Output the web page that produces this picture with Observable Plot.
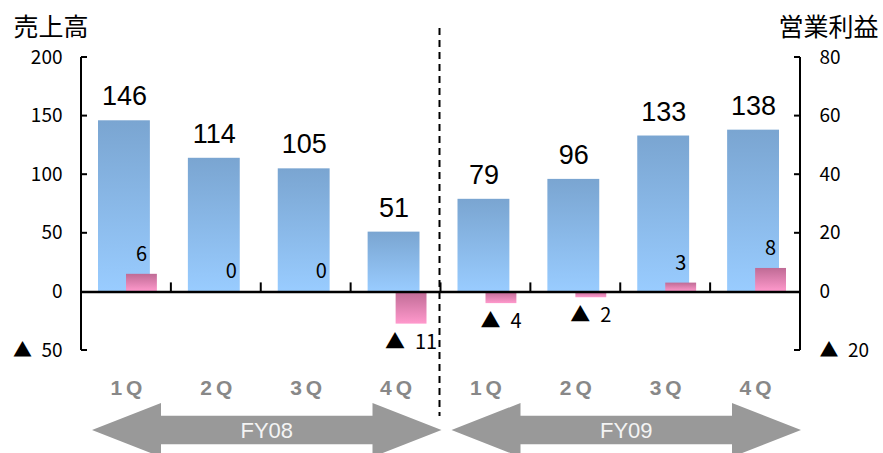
<!DOCTYPE html>
<html><head><meta charset="utf-8">
<script src="https://cdn.jsdelivr.net/npm/d3@7"></script>
<script src="https://cdn.jsdelivr.net/npm/@observablehq/plot@0.6"></script>
<style>body{margin:0;background:#fff} svg{display:block}</style>
</head><body><div id="chart"></div>
<script>
// ---- data ----
const years = ["FY08","FY08","FY08","FY08","FY09","FY09","FY09","FY09"];
const quarters = ["1Q","2Q","3Q","4Q","1Q","2Q","3Q","4Q"];
const sales = [146,114,105,51,79,96,133,138];
const profit = [6,0,0,-11,-4,-2,3,8];
const salesTicks = [-50,0,50,100,150,200];
const profitTicks = [-20,0,20,40,60,80];
const fiscalYears = ["FY08","FY09"];
const leftTitle = "売上高";
const rightTitle = "営業利益";

const k = salesTicks[salesTicks.length-1] / profitTicks[profitTicks.length-1]; // secondary axis ratio
const data = quarters.map((q,i)=>({key: years[i]+" "+q, year: years[i], q, sales: sales[i], profit: profit[i]}));
const keys = data.map(d=>d.key);
const fmt = v => v < 0 ? "▲\u2002" + (-v) : String(v);
const numFont = "'Liberation Sans', Arial, sans-serif";
const jpFont = "'Noto Sans CJK JP', sans-serif";

const decor = (index, scales, values, dim) => {
  const x = scales.x, y = scales.y, bw = x.bandwidth();
  const L = dim.marginLeft, R = dim.width - dim.marginRight;
  const yTop = y(salesTicks[salesTicks.length-1]), yBot = y(salesTicks[0]), y0 = y(0);
  const g = d3.create("svg:g");
  const defs = g.append("defs");
  const gb = defs.append("linearGradient").attr("id","gBlue").attr("x1",0).attr("y1",0).attr("x2",0).attr("y2",1);
  gb.append("stop").attr("offset","0").attr("stop-color","#7aa5d1");
  gb.append("stop").attr("offset","1").attr("stop-color","#99ccff");
  const gp = defs.append("linearGradient").attr("id","gPink").attr("x1",0).attr("y1",0).attr("x2",0).attr("y2",1);
  gp.append("stop").attr("offset","0").attr("stop-color","#bf6b95");
  gp.append("stop").attr("offset","1").attr("stop-color","#ff99cc");
  // axis lines
  const ax = g.append("g").attr("stroke","#000").attr("stroke-width",2).attr("fill","none");
  ax.append("line").attr("x1",L).attr("x2",L).attr("y1",yTop).attr("y2",yBot);
  ax.append("line").attr("x1",R).attr("x2",R).attr("y1",yTop).attr("y2",yBot);
  for (const t of salesTicks) {
    if (t === 0) continue;
    ax.append("line").attr("x1",L).attr("x2",L+6).attr("y1",y(t)).attr("y2",y(t));
    ax.append("line").attr("x1",R-6).attr("x2",R).attr("y1",y(t)).attr("y2",y(t));
  }
  keys.slice(1).forEach(kk => {
    ax.append("line").attr("x1",x(kk)).attr("x2",x(kk)).attr("y1",y0).attr("y2",y0-9);
  });
  // divider
  const xd = x(keys[4]) - 1;
  g.append("line").attr("x1",xd).attr("x2",xd).attr("y1",28).attr("y2",yBot+66)
    .attr("stroke","#000").attr("stroke-width",2).attr("stroke-dasharray","7,5");
  // arrows
  const cy = yBot + 80;
  fiscalYears.forEach(fy => {
    const ks = keys.filter((kk,i)=>years[i]===fy);
    const a = x(ks[0]) + 11, b = x(ks[ks.length-1]) + bw + 1;
    const hl = 69, hh = 27, sh = 14.3;
    const pts = [[a,cy],[a+hl,cy-hh],[a+hl,cy-sh],[b-hl,cy-sh],[b-hl,cy-hh],[b,cy],[b-hl,cy+hh],[b-hl,cy+sh],[a+hl,cy+sh],[a+hl,cy+hh]];
    g.append("polygon").attr("points",pts.map(p=>p.join(",")).join(" ")).attr("fill","#999999");
    g.append("text").attr("x",(a+b)/2).attr("y",cy).attr("dy","0.36em").attr("text-anchor","middle")
      .attr("fill","#f4f4f4").attr("font-size",22).attr("font-family",numFont).text(fy);
  });
  return g.node();
};

const chart = Plot.plot({
  width: 883, height: 453,
  marginLeft: 81, marginRight: 83, marginTop: 57, marginBottom: 103,
  style: {fontFamily: numFont, background: "#fff", color: "#000"},
  x: {type: "band", domain: keys, padding: 0, round: false, axis: null},
  y: {domain: [salesTicks[0], salesTicks[salesTicks.length-1]], axis: null},
  marks: [
    decor,
    Plot.barY(data, {x: "key", y: "sales", fill: "url(#gBlue)", insetLeft: 17, insetRight: 21}),
    Plot.barY(data, {x: "key", y: d => d.profit * k, fill: "url(#gPink)", insetLeft: 45, insetRight: 14}),
    Plot.ruleY([0], {stroke: "#000", strokeWidth: 2.5}),
    Plot.text(data, {x: "key", y: "sales", text: d => String(d.sales), dx: -2, dy: -24, fontSize: 27, lineAnchor: "middle"}),
    Plot.text(data.filter(d => d.profit >= 0), {x: "key", y: d => d.profit * k, text: d => fmt(d.profit), dx: 15, dy: -20, fontSize: 20, lineAnchor: "middle", fontFamily: jpFont}),
    Plot.text(data.filter(d => d.profit < 0), {x: "key", y: d => d.profit * k, text: d => fmt(d.profit), dx: 15, dy: 18, fontSize: 20, lineAnchor: "middle", fontFamily: jpFont}),
    // left axis tick labels (sales)
    Plot.text(salesTicks, {y: d => d, frameAnchor: "left", text: fmt, dx: -19, textAnchor: "end", lineAnchor: "middle", fontSize: 19, fontFamily: jpFont}),
    // right axis tick labels (operating profit)
    Plot.text(salesTicks, {y: d => d, frameAnchor: "right", text: d => fmt(d / k), dx: 19, textAnchor: "start", lineAnchor: "middle", fontSize: 19, fontFamily: jpFont}),
    // quarter labels
    Plot.text(data, {x: "key", frameAnchor: "bottom", text: "q", dy: 38, dx: 2, lineAnchor: "middle", fontSize: 21, fontWeight: "bold", fill: "#888"}),
    Plot.text([leftTitle], {frameAnchor: "top-left", dx: -68, dy: -30, textAnchor: "start", lineAnchor: "middle", fontSize: 25, fontFamily: jpFont}),
    Plot.text([rightTitle], {frameAnchor: "top-right", dx: 78, dy: -30, textAnchor: "end", lineAnchor: "middle", fontSize: 25, fontFamily: jpFont})
  ]
});
document.getElementById("chart").append(chart);
d3.select(chart).selectAll("text").filter(function() { return quarters.includes(this.textContent); })
  .style("letter-spacing", "4px");
</script>
</body></html>
